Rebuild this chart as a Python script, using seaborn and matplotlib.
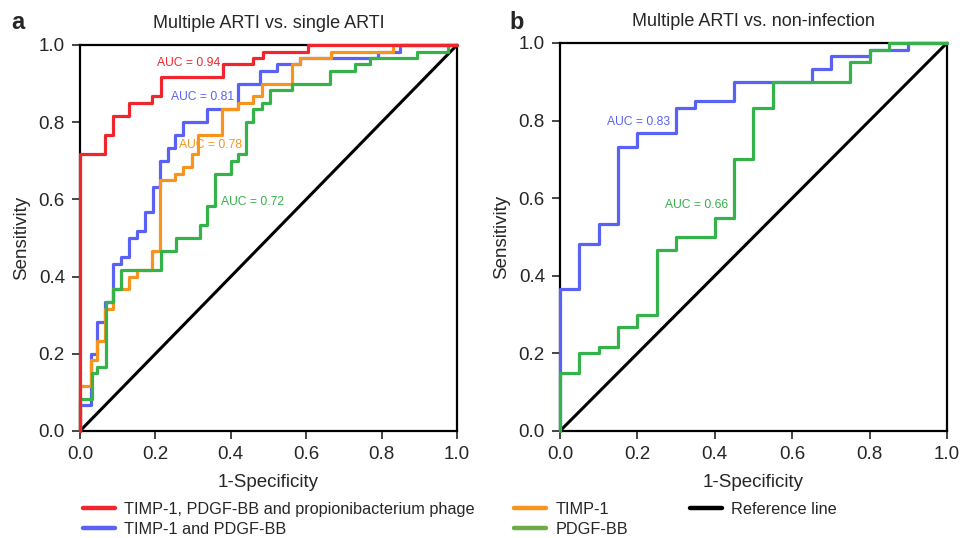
import numpy as np
import pandas as pd
import seaborn as sns
import matplotlib.pyplot as plt
from matplotlib.lines import Line2D

# panel a: multiple ARTI vs. single ARTI (step corners, fpr / tpr)
a_combo_fpr = [0, 0, 0.066, 0.088, 0.131, 0.19, 0.214, 0.378, 0.459, 0.485, 0.605, 1.0]
a_combo_tpr = [0, 0.717, 0.767, 0.817, 0.85, 0.867, 0.917, 0.95, 0.967, 0.983, 1.0, 1.0]
a_pair_fpr = [0, 0, 0.028, 0.044, 0.066, 0.088, 0.11, 0.13, 0.15, 0.172, 0.194, 0.212,
              0.234, 0.252, 0.274, 0.336, 0.42, 0.477, 0.522, 0.584, 0.791, 0.85, 1.0]
a_pair_tpr = [0, 0.067, 0.2, 0.283, 0.333, 0.433, 0.45, 0.5, 0.517, 0.567, 0.633, 0.7,
              0.733, 0.767, 0.8, 0.833, 0.9, 0.933, 0.95, 0.967, 0.983, 1.0, 1.0]
a_timp_fpr = [0, 0, 0.028, 0.046, 0.066, 0.088, 0.131, 0.152, 0.19, 0.212, 0.252, 0.274,
              0.296, 0.314, 0.376, 0.418, 0.46, 0.482, 0.561, 0.584, 0.667, 0.831, 1.0]
a_timp_tpr = [0, 0.117, 0.183, 0.233, 0.317, 0.367, 0.4, 0.417, 0.467, 0.65, 0.667, 0.683,
              0.717, 0.767, 0.833, 0.85, 0.867, 0.9, 0.95, 0.967, 0.983, 1.0, 1.0]
a_pdgf_fpr = [0, 0, 0.031, 0.046, 0.069, 0.088, 0.108, 0.214, 0.254, 0.318, 0.338, 0.358,
              0.40, 0.42, 0.44, 0.46, 0.482, 0.504, 0.561, 0.663, 0.729, 0.769, 0.893, 0.977, 1.0]
a_pdgf_tpr = [0, 0.083, 0.15, 0.167, 0.333, 0.367, 0.417, 0.467, 0.5, 0.533, 0.583, 0.667,
              0.7, 0.717, 0.8, 0.833, 0.85, 0.883, 0.9, 0.933, 0.95, 0.967, 0.983, 1.0, 1.0]

# panel b: multiple ARTI vs. non-infection
b_pair_fpr = [0, 0, 0.05, 0.10, 0.15, 0.20, 0.30, 0.35, 0.45, 0.65, 0.70, 0.80, 0.90, 1.0]
b_pair_tpr = [0, 0.367, 0.483, 0.533, 0.733, 0.767, 0.833, 0.85, 0.9, 0.933, 0.967, 0.983, 1.0, 1.0]
b_pdgf_fpr = [0, 0, 0.05, 0.10, 0.15, 0.20, 0.25, 0.30, 0.40, 0.45, 0.50, 0.55, 0.75, 0.80, 0.85, 1.0]
b_pdgf_tpr = [0, 0.15, 0.2, 0.217, 0.267, 0.3, 0.467, 0.5, 0.55, 0.7, 0.833, 0.9, 0.95, 0.983, 1.0, 1.0]

legend_labels = ["TIMP-1, PDGF-BB and propionibacterium phage", "TIMP-1 and PDGF-BB",
                 "TIMP-1", "PDGF-BB", "Reference line"]
auc_a = ["AUC = 0.94", "AUC = 0.81", "AUC = 0.78", "AUC = 0.72"]
auc_b = ["AUC = 0.83", "AUC = 0.66"]

colors = {"combo": "#f0262e", "pair": "#5a62f6", "timp": "#f7941d", "pdgf": "#33b34a"}
legend_colors = ["#f0262e", "#5a62f6", "#f7941d", "#6aad45", "black"]


def to_df(curves):
    parts = []
    for name, fpr, tpr in curves:
        parts.append(pd.DataFrame({"fpr": fpr, "tpr": tpr, "marker": name}))
    return pd.concat(parts, ignore_index=True)


def style_axes(ax, title):
    ax.plot([0, 1], [0, 1], color="black", lw=2.2, zorder=1)
    ax.set_xlim(0, 1)
    ax.set_ylim(0, 1)
    ticks = np.arange(0, 1.01, 0.2)
    ax.set_xticks(ticks)
    ax.set_yticks(ticks)
    ax.set_xticklabels([f"{t:.1f}" for t in ticks])
    ax.set_yticklabels([f"{t:.1f}" for t in ticks])
    ax.tick_params(direction="out", length=5.8, width=1.2, labelsize=13.5, pad=5)
    for s in ax.spines.values():
        s.set_linewidth(1.6)
        s.set_color("black")
        s.set_visible(True)
    ax.set_xlabel("1-Specificity", fontsize=13.5, labelpad=8)
    ax.set_ylabel("Sensitivity", fontsize=13.5, labelpad=6)
    ax.set_title(title, fontsize=13, pad=12.5)
    leg = ax.get_legend()
    if leg is not None:
        leg.remove()


sns.set_style("ticks")
plt.rcParams["font.family"] = ["Liberation Sans", "DejaVu Sans"]

fig = plt.figure(figsize=(9.65, 5.38), dpi=100)
ax_a = fig.add_axes([0.0829, 0.1989, 0.3907, 0.7175])
ax_b = fig.add_axes([0.5803, 0.1989, 0.4010, 0.7212])

df_a = to_df([("pair", a_pair_fpr, a_pair_tpr), ("timp", a_timp_fpr, a_timp_tpr),
              ("pdgf", a_pdgf_fpr, a_pdgf_tpr), ("combo", a_combo_fpr, a_combo_tpr)])
sns.lineplot(df_a, x="fpr", y="tpr", hue="marker", palette=colors, estimator=None,
             sort=False, drawstyle="steps-post", lw=2.3, clip_on=False, zorder=3, ax=ax_a)
style_axes(ax_a, "Multiple ARTI vs. single ARTI")

ax_a.text(0.287, 0.953, auc_a[0], color=colors["combo"], fontsize=8.7, ha="center", va="center")
ax_a.text(0.324, 0.865, auc_a[1], color=colors["pair"], fontsize=8.7, ha="center", va="center")
ax_a.text(0.347, 0.741, auc_a[2], color=colors["timp"], fontsize=8.7, ha="center", va="center")
ax_a.text(0.459, 0.593, auc_a[3], color=colors["pdgf"], fontsize=8.7, ha="center", va="center")

df_b = to_df([("pair", b_pair_fpr, b_pair_tpr), ("pdgf", b_pdgf_fpr, b_pdgf_tpr)])
sns.lineplot(df_b, x="fpr", y="tpr", hue="marker", palette=colors, estimator=None,
             sort=False, drawstyle="steps-post", lw=2.3, clip_on=False, zorder=3, ax=ax_b)
style_axes(ax_b, "Multiple ARTI vs. non-infection")

ax_b.text(0.204, 0.796, auc_b[0], color=colors["pair"], fontsize=8.7, ha="center", va="center")
ax_b.text(0.354, 0.582, auc_b[1], color=colors["pdgf"], fontsize=8.7, ha="center", va="center")

fig.text(0.012, 0.958, "a", fontsize=17, fontweight="bold", va="center")
fig.text(0.528, 0.958, "b", fontsize=17, fontweight="bold", va="center")

handles = [Line2D([], [], color=c, lw=3.2) for c in legend_colors]
groups = [(handles[0:2], legend_labels[0:2], 0.0860),
          (handles[2:4], legend_labels[2:4], 0.5326),
          (handles[4:5], legend_labels[4:5], 0.7150)]
for hs, ls, x0 in groups:
    fig.legend(hs, ls, loc="upper left", bbox_to_anchor=(x0, 0.067), frameon=False,
               fontsize=11.7, handlelength=1.95, handletextpad=0.6, labelspacing=0.32,
               borderaxespad=0, borderpad=0)

fig.savefig("out.png", dpi=100)
